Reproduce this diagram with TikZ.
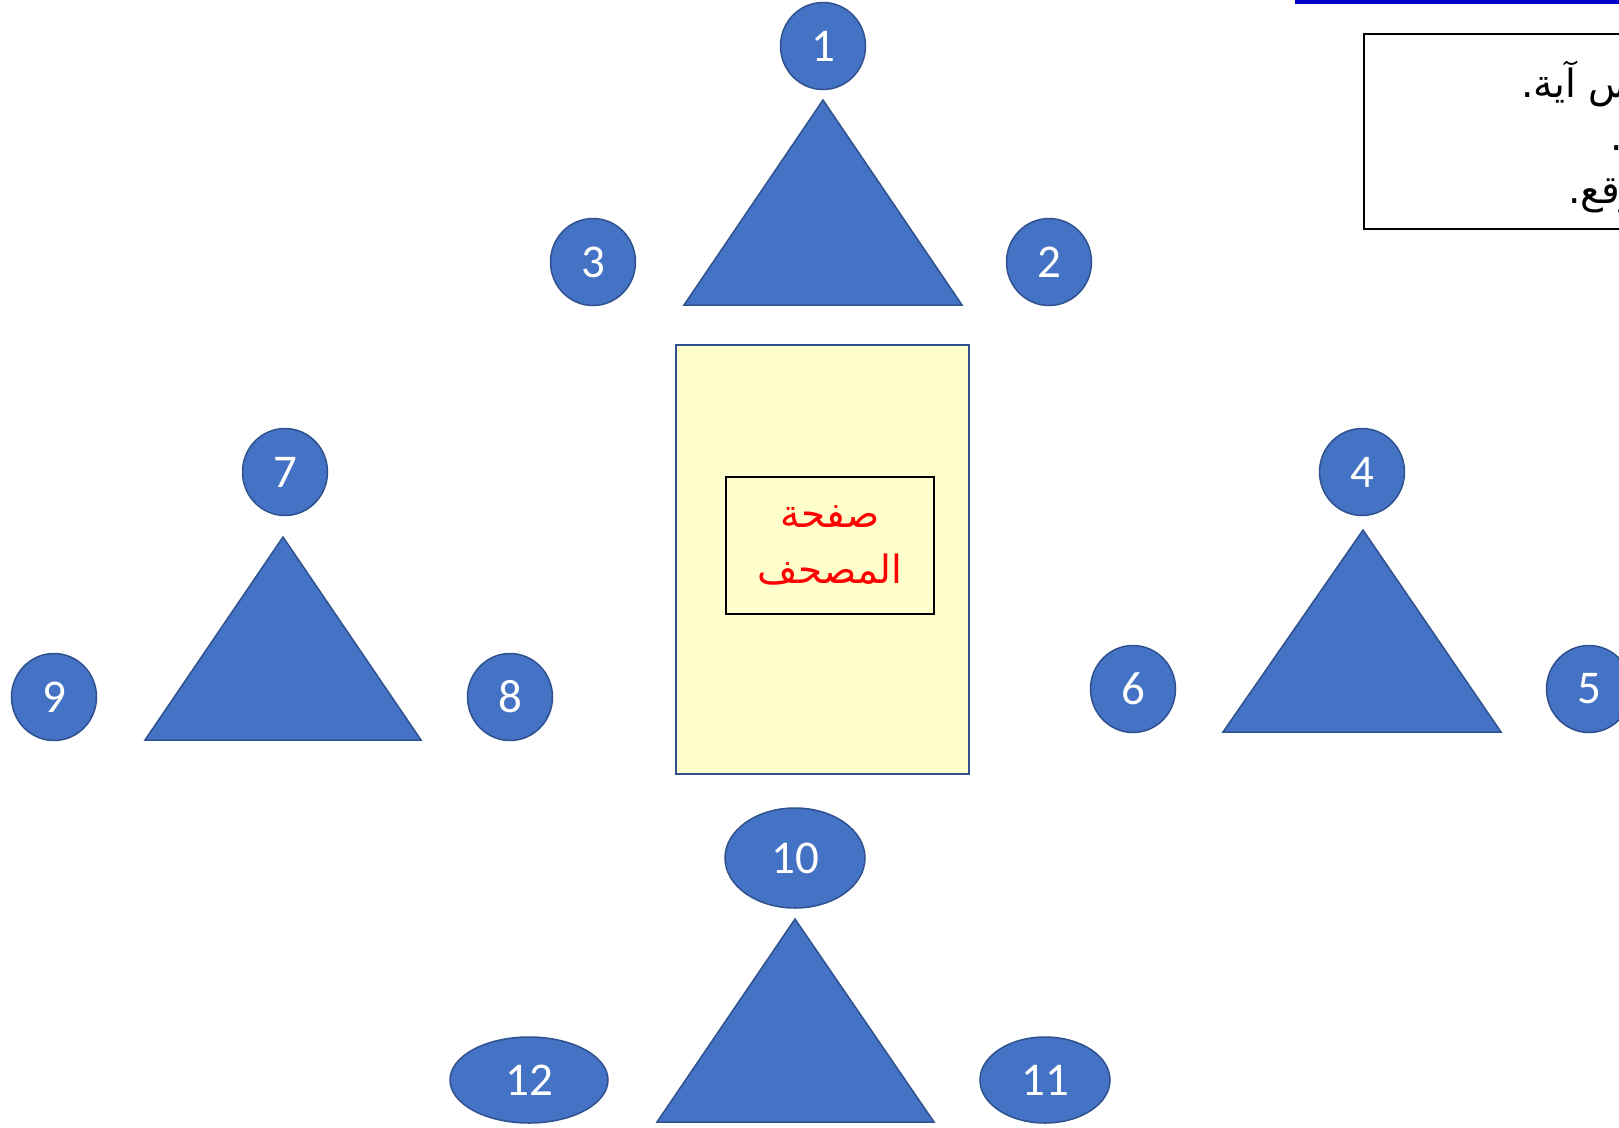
\documentclass[tikz,border=0pt]{standalone}
\usepackage{fontspec}
\setmainfont{Carlito}
\newfontfamily\arabicfont[Script=Arabic]{DejaVu Sans}
\TeXXeTstate=1
\usetikzlibrary{shapes.geometric}
\definecolor{accent}{HTML}{4472C4}
\definecolor{accentdark}{HTML}{2F528F}
\definecolor{pageyellow}{HTML}{FFFFCC}
\definecolor{topblue}{HTML}{0000CC}
\begin{document}
\begin{tikzpicture}[x=1pt,y=-1pt,
  num/.style={ellipse, fill=accent, draw=accentdark, line width=1.5pt,
    minimum width=85pt, minimum height=87pt, inner sep=0pt, text=white,
    font=\fontsize{47}{50}\selectfont},
  tri/.style={fill=accent, draw=accentdark, line width=1.5pt, line join=miter},
  artext/.style={inner sep=0pt, font=\arabicfont\fontsize{39}{44}\selectfont},
  redtext/.style={inner sep=0pt, text=red, font=\arabicfont\fontsize{39}{44}\selectfont}]
\useasboundingbox (0,0) rectangle (1619,1127);
\clip (0,0) rectangle (1619,1127);

% top-right fragment
\fill[topblue] (1295,0) rectangle (1625,4);
\draw[line width=1.5pt] (1364,34) rectangle (1640,229);
\node[artext, anchor=base west] (l1) at (1521,97) {\beginR ^^^^200dس آية.\endR};
\node[artext, anchor=base west] (l2) at (1610,150) {.};
\node[artext, anchor=base west] (l3) at (1568,203) {\beginR ^^^^200dوقع.\endR};

% central page
\node[draw=accentdark, fill=pageyellow, line width=1.8pt, minimum width=293pt,
  minimum height=429pt, inner sep=0pt] (page) at (822.5,559.5) {};
\node[draw=black, line width=1.5pt, minimum width=208pt, minimum height=137pt,
  inner sep=0pt] (inner) at (830,545.5) {};
\node[redtext, anchor=base] (t1) at (830,527) {\beginR صفحة\endR};
\node[redtext, anchor=base] (t2) at (830,583) {\beginR المصحف\endR};

% triangles
\path[tri] (823,100) -- (962,305) -- (684,305) -- cycle;
\path[tri] (283,537) -- (421,740) -- (145,740) -- cycle;
\path[tri] (1363,530) -- (1501,732) -- (1223,732) -- cycle;
\path[tri] (795,919) -- (934,1122) -- (657,1122) -- cycle;

% numbered circles
\node[num] (n1) at (823,46) {1};
\node[num] (n2) at (1049,262) {2};
\node[num] (n3) at (593,262) {3};
\node[num] (n4) at (1362,472) {4};
\node[num] (n5) at (1589,689) {5};
\node[num] (n6) at (1133,689) {6};
\node[num] (n7) at (285,472) {7};
\node[num] (n8) at (510,697) {8};
\node[num] (n9) at (54,697) {9};
\node[num, minimum width=140pt, minimum height=100pt] (n10) at (795,858) {10};
\node[num, minimum width=130pt, minimum height=86pt] (n11) at (1045,1080) {11};
\node[num, minimum width=158pt, minimum height=86pt] (n12) at (529,1080) {12};
\end{tikzpicture}
\end{document}
